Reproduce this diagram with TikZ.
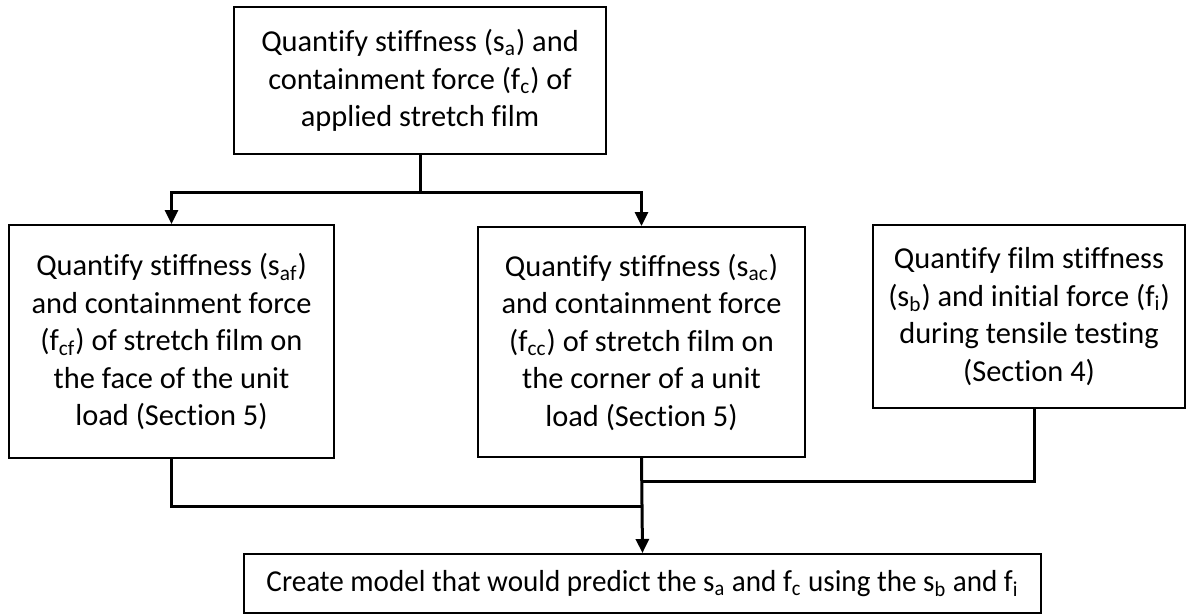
\documentclass[tikz,border=0pt]{standalone}
\usepackage{fontspec}
\setmainfont[RawFeature={-liga;-dlig}]{Carlito}
\usetikzlibrary{arrows.meta}
\newcommand{\sbs}[1]{\textsubscript{#1}}
\tikzset{
  box/.style={draw=black, line width=1pt, align=center, inner sep=0pt,
    font=\fontsize{15.2}{18.75}\selectfont},
  conn/.style={line width=1.5pt},
  arr/.style={conn, -{Triangle[length=7pt,width=6.5pt]}}
}
\begin{document}
\begin{tikzpicture}[x=0.5pt,y=-0.5pt]
\useasboundingbox (0,0) rectangle (1187,615);
\node[box, minimum width=186pt, minimum height=73.5pt] (top) at (420,80.5)
  {Quantify stiffness (s\sbs{a}) and\\containment force (f\sbs{c}) of\\applied stretch film};
\node[box, minimum width=162.5pt, minimum height=116.5pt] (left) at (171.5,341.5)
  {Quantify stiffness (s\sbs{af})\\and containment force\\(f\sbs{cf}) of stretch film on\\the face of the unit\\load (Section 5)};
\node[box, minimum width=163.5pt, minimum height=115pt] (mid) at (641.5,342)
  {Quantify stiffness (s\sbs{ac})\\and containment force\\(f\sbs{cc}) of stretch film on\\the corner of a unit\\load (Section 5)};
\node[box, minimum width=156pt, minimum height=91.5pt] (right) at (1029,316.5)
  {Quantify film stiffness\\(s\sbs{b}) and initial force (f\sbs{i})\\during tensile testing\\(Section 4)};
\node[box, minimum width=398.5pt, minimum height=29.5pt] (bot) at (642.5,583.5)
  {\resizebox{376pt}{\height}{Create model that would predict the s\sbs{a} and f\sbs{c} using the s\sbs{b} and f\sbs{i}}};
\coordinate (j1) at (420,192);
\coordinate (j2) at (641.5,506);
\coordinate (j3) at (641.5,481);
\draw[conn] (top.south) -- (j1);
\draw[arr] (j1) -| (left.north);
\draw[arr] (j1) -| (mid.north);
\draw[conn] (left.south) |- (j2);
\draw[conn] ([xshift=2.5pt]right.south) |- (j3);
\draw[arr] (mid.south) -- (bot.north);
\end{tikzpicture}
\end{document}
